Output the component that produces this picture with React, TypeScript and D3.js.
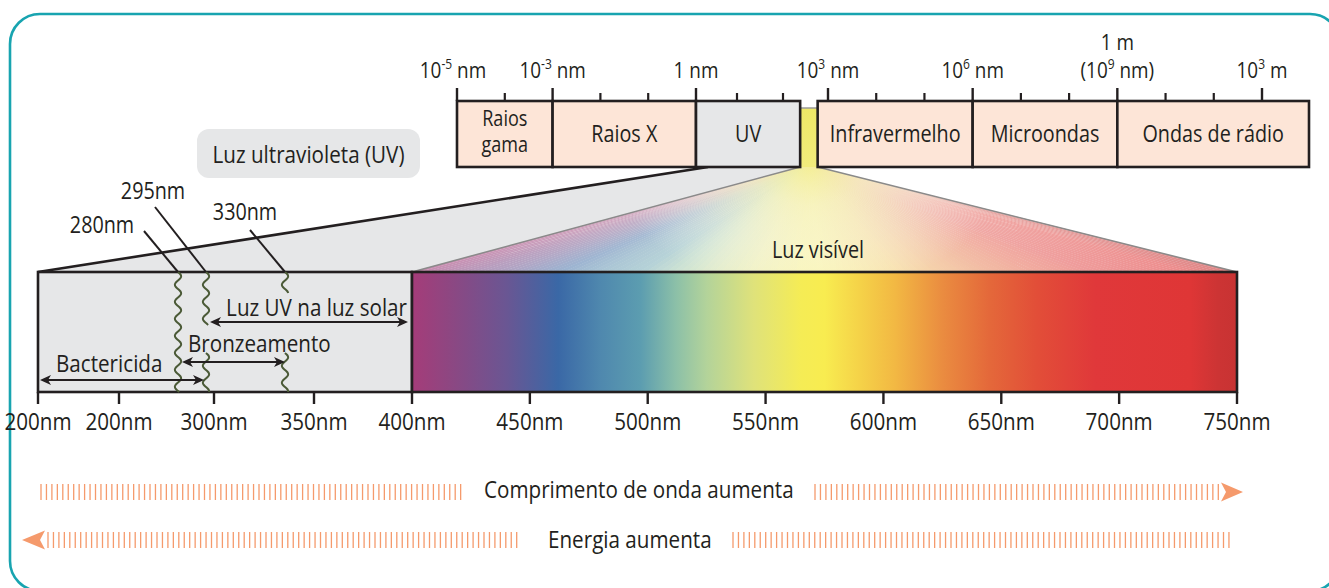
import React from "react";
import * as d3 from "d3";

// ---------- DATA ----------
const bandNames = ["Raios gama", "Raios X", "UV", "Infravermelho", "Microondas", "Ondas de rádio"];
const bandStartNm = [1e-5, 1e-3, 1, 700, 1e6, 1e9];
const bandEndNm = [1e-3, 1, 400, 1e6, 1e9, 1e13];
const bandKind = ["ion", "ion", "uv", "ion", "ion", "ion"];

const topMajorNm = [1e-5, 1e-3, 1, 1e3, 1e6, 1e9, 1e12];
const topMajorBase = ["10", "10", "1", "10", "10", "(10", "10"];
const topMajorSup = ["-5", "-3", "", "3", "6", "9", "3"];
const topMajorUnit = [" nm", " nm", " nm", " nm", " nm", " nm)", " m"];
const topMinorNm = [1e-4, 1e-2, 1e-1, 10, 100, 1e4, 1e5, 1e7, 1e8, 1e10, 1e11];
const oneMeterLabel = "1 m";

const uvTickNm = [200, 250, 300, 350, 400];
const uvTickLabels = ["200nm", "200nm", "300nm", "350nm", "400nm"];
const visTickNm = [450, 500, 550, 600, 650, 700, 750];
const visTickLabels = ["450nm", "500nm", "550nm", "600nm", "650nm", "700nm", "750nm"];

const markerNm = [280, 295, 330];
const markerLabels = ["280nm", "295nm", "330nm"];

const rangeNames = ["Luz UV na luz solar", "Bronzeamento", "Bactericida"];
const rangeFromNm = [295, 280, 200];
const rangeToNm = [400, 330, 295];

const spectrumNm = [400, 415, 440, 462, 480, 497, 512, 525, 545, 565, 575, 590, 605, 625, 645, 665, 690, 730, 742, 750];
const spectrumColors = [
  "#a53c79", "#8f4681", "#6a5693", "#3a68a6", "#4f88ae", "#5c9db0", "#8cc0a8", "#b3d39a", "#dfe27a", "#f5ec55",
  "#f8ec50", "#f5d248", "#f2b843", "#ea8c40", "#e4683a", "#e24e38", "#e0383a", "#df3636", "#cc3434", "#c83333",
];

const uvTitle = "Luz ultravioleta (UV)";
const visTitle = "Luz visível";
const arrowTexts = ["Comprimento de onda aumenta", "Energia aumenta"];

// ---------- STYLE ----------
const INK = "#231f20";
const FONT = "'Open Sans', sans-serif";
const SX = 0.86;
const PEACH = "#fde5d7";
const GREY = "#e6e7e8";
const TEAL = "#18a4b0";
const ORANGE = "#f59a6c";

function T({ x, y, children, size = 24, anchor = "start", fill = INK }: any) {
  return (
    <text
      transform={`translate(${x},${y}) scale(${SX},1)`}
      fontSize={size}
      textAnchor={anchor}
      fill={fill}
      fontFamily={FONT}
    >
      {children}
    </text>
  );
}

export default function App() {
  const W = 1329;
  const H = 588;

  // top piecewise log scale
  const topScaleLin = d3
    .scaleLinear()
    .domain([-5, 0, 1, 2, 2.6, 2.85, 3, 12, 13])
    .range([457, 696, 737, 783, 800, 818, 828, 1262, 1309]);
  const tx = (nm: number) => topScaleLin(Math.log10(nm));
  const topY0 = 101;
  const topY1 = 167;

  // bottom scales
  const uvScale = d3
    .scaleLinear()
    .domain([200, 250, 280, 295, 300, 330, 350, 400])
    .range([38, 119, 178, 206, 214, 285, 314, 412]);
  const visScale = d3.scaleLinear().domain([400, 750]).range([412, 1237]);
  const botY0 = 272;
  const botY1 = 392;

  const specColor = d3.scaleLinear<string>().domain(spectrumNm).range(spectrumColors).interpolate(d3.interpolateRgb);

  // fan for visible triangle
  const apexL = tx(400);
  const apexR = tx(700);
  const N = 120;
  const fan = d3.range(N).map((i) => {
    const t0 = i / N;
    const t1 = (i + 1) / N;
    const nm = 400 + ((t0 + t1) / 2) * 350;
    const bx0 = visScale(400 + t0 * 350);
    const bx1 = visScale(400 + t1 * 350);
    const ax0 = apexL + t0 * (apexR - apexL);
    const ax1 = apexL + t1 * (apexR - apexL);
    const c = d3.interpolateRgb(specColor(nm), "#ffffff")(0.4);
    return { d: `M${ax0},${topY1}L${ax1},${topY1}L${bx1 + 0.5},${botY0}L${bx0 - 0.5},${botY0}Z`, c };
  });

  const waveLine = d3
    .line<[number, number]>()
    .x((p) => p[0])
    .y((p) => p[1])
    .curve(d3.curveBasis);
  const wave = (x0: number, y0: number, y1: number) =>
    waveLine(d3.range(y0, y1 + 0.01, 1).map((y) => [x0 + 3.2 * Math.sin(((y - y0) / 17) * 2 * Math.PI), y] as [number, number]));

  const head = (x: number, y: number, dir: number, len = 11, hw = 5) =>
    `M${x},${y}L${x - dir * len},${y - hw}L${x - dir * (len - 3)},${y}L${x - dir * len},${y + hw}Z`;

  const waveSegs: [number, number, number][] = [
    [uvScale(markerNm[0]), botY0, botY1],
    [uvScale(markerNm[1]), botY0, 325],
    [uvScale(markerNm[1]), 353, botY1],
    [uvScale(markerNm[2]), botY0, 293],
    [uvScale(markerNm[2]), 353, botY1],
  ];
  const leaderStart: [number, number][] = [
    [144, 231],
    [155, 207],
    [250, 230],
  ];
  const markerLabelPos: [number, number][] = [
    [102, 233],
    [153, 199],
    [245, 220],
  ];

  const rangeY = [322, 362, 380];
  const rangeInset = [[4, 4], [4, 0], [2, 2]];
  const rangeLabelPos: [number, number, string][] = [
    [407, 316, "end"],
    [188, 352, "start"],
    [56, 372, "start"],
  ];

  // dashed arrow rows
  const row1A = d3.range(41, 462, 5.45);
  const row1B = d3.range(815, 1221, 5.45);
  const row2A = d3.range(48, 522, 5.45);
  const row2B = d3.range(733, 1230, 5.45);

  const triPath = `M${apexL},${topY1}L${apexR},${topY1}L${visScale(750)},${botY0}L${visScale(400)},${botY0}Z`;

  return (
    <svg width={W} height={H} style={{ position: "absolute", left: 0, top: 0, background: "#fff" }}>
      <defs>
        <linearGradient id="spec" x1={visScale(400)} x2={visScale(750)} y1={0} y2={0} gradientUnits="userSpaceOnUse">
          {spectrumNm.map((nm, i) => (
            <stop key={i} offset={(nm - 400) / 350} stopColor={spectrumColors[i]} />
          ))}
        </linearGradient>
        <radialGradient id="glow" cx={(apexL + apexR) / 2} cy={topY1} r={170} gradientUnits="userSpaceOnUse"
          gradientTransform={`translate(${(apexL + apexR) / 2},${topY1}) scale(1.15,0.75) translate(${-(apexL + apexR) / 2},${-topY1})`}>
          <stop offset={0} stopColor="#f0e85c" stopOpacity={0.95} />
          <stop offset={0.3} stopColor="#f4efa8" stopOpacity={0.7} />
          <stop offset={0.65} stopColor="#f7f5da" stopOpacity={0.35} />
          <stop offset={1} stopColor="#ffffff" stopOpacity={0} />
        </radialGradient>
        <linearGradient id="centerPale" x1={0} x2={1} y1={0} y2={0}>
          <stop offset={0} stopColor="#ffffff" stopOpacity={0} />
          <stop offset={0.5} stopColor="#f8f6e0" stopOpacity={0.45} />
          <stop offset={1} stopColor="#ffffff" stopOpacity={0} />
        </linearGradient>
        <linearGradient id="strip" x1={0} x2={0} y1={0} y2={1}>
          <stop offset={0} stopColor="#eee866" />
          <stop offset={1} stopColor="#f1ec7c" />
        </linearGradient>
      </defs>

      {/* frame */}
      <rect x={10} y={14} width={1330} height={577} rx={30} fill="#fff" stroke={TEAL} strokeWidth={2.6} />

      {/* UV projection trapezoid */}
      <path
        d={`M${uvScale(200)},${botY0}L${tx(1) + 12},${topY1}L${apexL},${topY1}L${visScale(400)},${botY0}Z`}
        fill={GREY}
      />
      <line x1={uvScale(200)} y1={botY0} x2={tx(1) + 12} y2={topY1} stroke={INK} strokeWidth={2.6} />

      {/* visible fan */}
      {fan.map((f, i) => (
        <path key={i} d={f.d} fill={f.c} />
      ))}
      <path d={triPath} fill="url(#glow)" />
      <path d={triPath} fill="url(#centerPale)" />
      <line x1={apexL} y1={topY1} x2={visScale(400)} y2={botY0} stroke="#8a8a8a" strokeWidth={1.5} />
      <line x1={apexR} y1={topY1} x2={visScale(750)} y2={botY0} stroke="#8a8a8a" strokeWidth={1.5} />
      <T x={818} y={258} anchor="middle" size={23}>{visTitle}</T>

      {/* visible strip between boxes */}
      <rect x={apexL} y={108} width={apexR - apexL} height={topY1 - 108} fill="url(#strip)" />
      <line x1={apexL} y1={108} x2={apexR} y2={108} stroke="#9a9a9a" strokeWidth={1.5} />

      {/* top bands */}
      {bandNames.map((n, i) => {
        const x0 = tx(bandStartNm[i]);
        const x1 = tx(bandEndNm[i]);
        return (
          <rect key={n} x={x0} y={topY0} width={x1 - x0} height={topY1 - topY0}
            fill={bandKind[i] === "uv" ? GREY : PEACH} stroke={INK} strokeWidth={2.6} />
        );
      })}
      {bandNames.map((n, i) => {
        const cx = (tx(bandStartNm[i]) + tx(bandEndNm[i])) / 2;
        const words = n.split(" ");
        if (i === 0)
          return (
            <g key={n}>
              <T x={cx} y={126} anchor="middle" size={21}>{words[0]}</T>
              <T x={cx} y={152} anchor="middle" size={21}>{words[1]}</T>
            </g>
          );
        return <T key={n} x={cx} y={142} anchor="middle" size={23}>{n}</T>;
      })}
      {topMajorNm.map((v, i) => (
        <line key={"M" + i} x1={tx(v)} x2={tx(v)} y1={88} y2={topY0} stroke={INK} strokeWidth={2.4} />
      ))}
      {topMinorNm.map((v, i) => (
        <line key={"m" + i} x1={tx(v)} x2={tx(v)} y1={93} y2={topY0} stroke={INK} strokeWidth={2.2} />
      ))}
      {topMajorNm.map((v, i) => (
        <T key={"L" + i} x={tx(v) - (i === 0 ? 4 : 0)} y={78} anchor="middle" size={22}>
          {topMajorBase[i]}
          {topMajorSup[i] !== "" && (
            <tspan fontSize={14} dy={-9}>{topMajorSup[i]}</tspan>
          )}
          <tspan dy={topMajorSup[i] !== "" ? 9 : 0}>{topMajorUnit[i]}</tspan>
        </T>
      ))}
      <T x={tx(1e9)} y={50} anchor="middle" size={22}>{oneMeterLabel}</T>

      {/* UV label bubble */}
      <rect x={197} y={129} width={223} height={49} rx={12} fill={GREY} />
      <T x={308.5} y={163} anchor="middle" size={24}>{uvTitle}</T>

      {/* bottom UV box */}
      <rect x={uvScale(200)} y={botY0} width={visScale(400) - uvScale(200)} height={botY1 - botY0} fill={GREY} stroke={INK} strokeWidth={2.6} />
      {/* spectrum */}
      <rect x={visScale(400)} y={botY0} width={visScale(750) - visScale(400)} height={botY1 - botY0} fill="url(#spec)" stroke={INK} strokeWidth={2.6} />

      {/* markers */}
      {waveSegs.map((s, i) => (
        <path key={"w" + i} d={wave(s[0], s[1], s[2]) || ""} fill="none" stroke="#4b5a37" strokeWidth={2} />
      ))}
      {markerNm.map((nm, i) => (
        <g key={"mk" + i}>
          <line x1={leaderStart[i][0]} y1={leaderStart[i][1]} x2={uvScale(nm)} y2={botY0} stroke={INK} strokeWidth={2} />
          <T x={markerLabelPos[i][0]} y={markerLabelPos[i][1]} anchor="middle" size={23}>{markerLabels[i]}</T>
        </g>
      ))}

      {/* ranges */}
      {rangeNames.map((n, i) => {
        const x0 = uvScale(rangeFromNm[i]) + rangeInset[i][0];
        const x1 = (rangeToNm[i] === 400 ? visScale(400) : uvScale(rangeToNm[i])) - rangeInset[i][1];
        const y = rangeY[i];
        return (
          <g key={n}>
            <line x1={x0 + 6} x2={x1 - 6} y1={y} y2={y} stroke={INK} strokeWidth={2} />
            <path d={head(x0, y, -1)} fill={INK} />
            <path d={head(x1, y, 1)} fill={INK} />
            <T x={rangeLabelPos[i][0]} y={rangeLabelPos[i][1]} anchor={rangeLabelPos[i][2]} size={24}>{n}</T>
          </g>
        );
      })}

      {/* bottom ticks */}
      {uvTickNm.map((v, i) => (
        <g key={"ut" + i}>
          <line x1={uvScale(v)} x2={uvScale(v)} y1={botY1} y2={404} stroke={INK} strokeWidth={2.4} />
          <T x={uvScale(v)} y={430} anchor="middle" size={24}>{uvTickLabels[i]}</T>
        </g>
      ))}
      {visTickNm.map((v, i) => (
        <g key={"vt" + i}>
          <line x1={visScale(v)} x2={visScale(v)} y1={botY1} y2={404} stroke={INK} strokeWidth={2.4} />
          <T x={visScale(v)} y={430} anchor="middle" size={24}>{visTickLabels[i]}</T>
        </g>
      ))}

      {/* arrow rows */}
      {[...row1A, ...row1B].map((x, i) => (
        <line key={"r1" + i} x1={x} x2={x} y1={484} y2={500} stroke={ORANGE} strokeWidth={1.3} />
      ))}
      <path d={`M1243,492L1221,482.5L1226,492L1221,501.5Z`} fill={ORANGE} />
      <T x={484} y={498} size={24}>{arrowTexts[0]}</T>
      {[...row2A, ...row2B].map((x, i) => (
        <line key={"r2" + i} x1={x} x2={x} y1={532} y2={548} stroke={ORANGE} strokeWidth={1.3} />
      ))}
      <path d={`M22,540L45,530.5L40,540L45,549.5Z`} fill={ORANGE} />
      <T x={548} y={548} size={24}>{arrowTexts[1]}</T>
    </svg>
  );
}
